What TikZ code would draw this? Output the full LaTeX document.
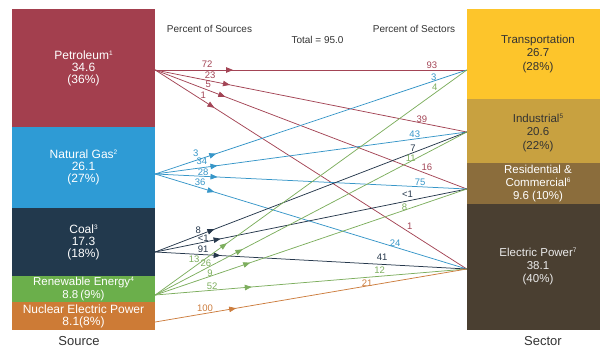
\documentclass[tikz,border=0pt]{standalone}
\usepackage{fontspec}
\setmainfont{Liberation Sans}
\usetikzlibrary{arrows.meta,decorations.markings}

\definecolor{cPet}{HTML}{A33F4E}
\definecolor{cNG}{HTML}{2E9BD5}
\definecolor{cCoal}{HTML}{22394D}
\definecolor{cRen}{HTML}{6BAF4B}
\definecolor{cNuc}{HTML}{CD7B36}
\definecolor{cTr}{HTML}{FDC52B}
\definecolor{cInd}{HTML}{C8A140}
\definecolor{cRes}{HTML}{8B6D3C}
\definecolor{cEl}{HTML}{4A3F31}
\definecolor{lPet}{HTML}{A34455}
\definecolor{lNG}{HTML}{3796C8}
\definecolor{lCoal}{HTML}{26384C}
\definecolor{lRen}{HTML}{7DAE5E}
\definecolor{lNuc}{HTML}{CC7D3E}
\definecolor{txtdark}{HTML}{333333}

\newcommand\flowto[8]{\draw[flowline,draw=#1,tip at=#4] (#2) -- node[lbl,text=#1,#6]{#5} node[lbl,text=#1,#8]{#7} (#3);}
\newcommand\fnsup[1]{\raisebox{3.8pt}{\fontsize{6.5}{7}\selectfont #1}}

\begin{document}
\begin{tikzpicture}[x=1pt,y=-1pt,
  box/.style={draw=none, rectangle, inner sep=0pt, align=center},
  lbox/.style={box, minimum width=143pt, text=white, font=\fontsize{12}{12}\selectfont},
  rbox/.style={box, minimum width=133pt},
  rtxt/.style={align=center, inner sep=0pt, font=\fontsize{11.5}{13.2}\selectfont},
  flowline/.style={line width=0.75pt},
  lbl/.style={font=\fontsize{9.5}{10}\selectfont, inner sep=0pt},
  hdr/.style={font=\fontsize{10}{11}\selectfont, text=txtdark, inner sep=0pt},
  foot/.style={font=\fontsize{13}{14}\selectfont, text=txtdark, inner sep=0pt},
  tip at/.style={postaction={decorate}, decoration={markings, mark=at position #1 with {\arrow{Triangle[length=7pt,width=5.5pt]}}}}
]
\useasboundingbox (0,0) rectangle (600,349);

% source boxes
\node[lbox, fill=cPet, minimum height=118pt] (pet) at (83.5,68) {Petroleum\fnsup{1}\\34.6\\(36\%)};
\node[lbox, fill=cNG, minimum height=81pt] (ng) at (83.5,167.5) {Natural Gas\fnsup{2}\\26.1\\(27\%)};
\node[lbox, fill=cCoal, minimum height=68pt] (coal) at (83.5,242) {Coal\fnsup{3}\\17.3\\(18\%)};
\node[lbox, fill=cRen, minimum height=26pt, font=\fontsize{11.5}{13}\selectfont] (ren) at (83.5,289) {Renewable Energy\fnsup{4}\\8.8\,(9\%)};
\node[lbox, fill=cNuc, minimum height=28pt, font=\fontsize{12}{12}\selectfont] (nuc) at (83.5,316) {Nuclear Electric Power\\8.1(8\%)};

% sector boxes
\node[rbox, fill=cTr, minimum height=90pt] (tr) at (533.5,54) {};
\node[rbox, fill=cInd, minimum height=64pt] (ind) at (533.5,131) {};
\node[rbox, fill=cRes, minimum height=41pt] (res) at (533.5,183.5) {};
\node[rbox, fill=cEl, minimum height=126pt] (el) at (533.5,267) {};
\node[rtxt, text=txtdark] (trt) at (538,54) {Transportation\\26.7\\(28\%)};
\node[rtxt, text=txtdark] (indt) at (538,133) {Industrial\fnsup{5}\\20.6\\(22\%)};
\node[rtxt, text=white] (rest) at (538,183.5) {Residential \&\\Commercial\fnsup{6}\\9.6 (10\%)};
\node[rtxt, text=white!92!black] (elt) at (538,266.5) {Electric Power\fnsup{7}\\38.1\\(40\%)};

% headers and footers
\node[hdr] (hs) at (209.5,29) {Percent of Sources};
\node[hdr] (tot) at (317.5,40) {Total = 95.0};
\node[hdr] (hsec) at (414,29) {Percent of Sectors};
\node[foot] (src) at (79,341) {Source};
\node[foot] (sec) at (543,341) {Sector};

% connector end points
\coordinate (sPet) at ([yshift=-2pt]pet.east);
\coordinate (sNG) at ([yshift=-6.5pt]ng.east);
\coordinate (sCoal) at ([yshift=-10pt]coal.east);
\coordinate (sRen) at ([yshift=-6pt]ren.east);
\coordinate (sNuc) at ([yshift=-6pt]nuc.east);
\coordinate (tTr) at ([yshift=-16pt]tr.west);
\coordinate (tInd) at ([yshift=-1pt]ind.west);
\coordinate (tRes) at ([yshift=-5.5pt]res.west);
\coordinate (tEl) at ([yshift=-2pt]el.west);

% flows
\flowto{lPet}{sPet}{tTr}{0.25}{72}{pos=0.167,yshift=6pt}{93}{pos=0.888,yshift=5pt}
\flowto{lPet}{sPet}{tInd}{0.24}{23}{pos=0.176,yshift=6pt}{39}{pos=0.856,yshift=4pt}
\flowto{lPet}{sPet}{tRes}{0.225}{5}{pos=0.17,yshift=6pt}{16}{pos=0.872,yshift=6.5pt}
\flowto{lPet}{sPet}{tEl}{0.19}{1}{pos=0.154,yshift=5.5pt}{1}{pos=0.817,yshift=6.5pt}
\flowto{lNG}{sNG}{tTr}{0.196}{3}{pos=0.13,yshift=7pt}{3}{pos=0.894,yshift=4pt}
\flowto{lNG}{sNG}{tInd}{0.2}{34}{pos=0.15,yshift=6pt}{43}{pos=0.833,yshift=5pt}
\flowto{lNG}{sNG}{tRes}{0.2}{28}{pos=0.154,yshift=4.5pt}{75}{pos=0.85,yshift=4pt}
\flowto{lNG}{sNG}{tEl}{0.19}{36}{pos=0.144,yshift=5pt}{24}{pos=0.77,yshift=4pt}
\flowto{lCoal}{sCoal}{tInd}{0.19}{8}{pos=0.138,yshift=5.5pt}{7}{pos=0.827,yshift=5pt}
\flowto{lCoal}{sCoal}{tRes}{0.21}{<1}{pos=0.154,yshift=4.5pt}{<1}{pos=0.81,yshift=7pt}
\flowto{lCoal}{sCoal}{tEl}{0.21}{91}{pos=0.154,yshift=5.5pt}{41}{pos=0.728,yshift=7pt}
\flowto{lRen}{sRen}{tTr}{0.23}{13}{pos=0.125,yshift=8pt}{4}{pos=0.897,yshift=6pt}
\flowto{lRen}{sRen}{tInd}{0.28}{26}{pos=0.163,yshift=5pt}{11}{pos=0.82,yshift=3pt}
\flowto{lRen}{sRen}{tRes}{0.305}{9}{pos=0.176,yshift=3.5pt}{8}{pos=0.80,yshift=3pt}
\flowto{lRen}{sRen}{tEl}{0.31}{52}{pos=0.183,yshift=4.5pt}{12}{pos=0.72,yshift=6pt}
\flowto{lNuc}{sNuc}{tEl}{0.26}{100}{pos=0.16,yshift=5.5pt}{21}{pos=0.68,yshift=3pt}
\end{tikzpicture}
\end{document}
